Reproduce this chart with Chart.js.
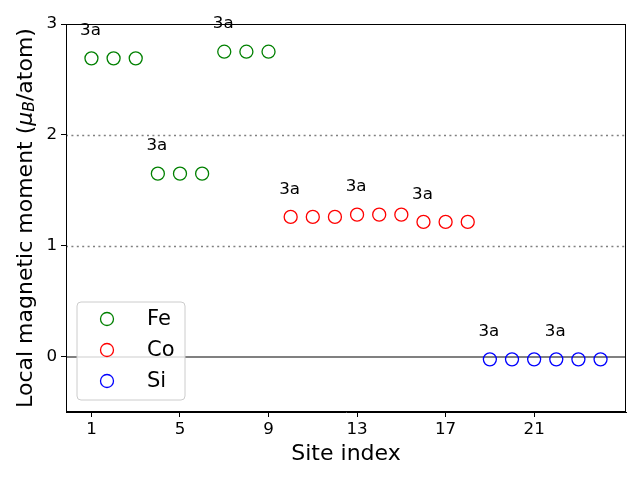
<!DOCTYPE html>
<html><head><meta charset="utf-8">
<script src="https://cdn.jsdelivr.net/npm/chart.js@4/dist/chart.umd.min.js"></script>
<style>html,body{margin:0;padding:0;background:#fff}#wrap{width:640px;height:480px;position:relative}</style>
</head><body><div id="wrap"><canvas id="c"></canvas></div>
<script>
const feSites = [1,2,3,4,5,6,7,8,9];
const feValues = [2.69,2.69,2.69,1.65,1.65,1.65,2.75,2.75,2.75];
const coSites = [10,11,12,13,14,15,16,17,18];
const coValues = [1.26,1.26,1.26,1.28,1.28,1.28,1.215,1.215,1.215];
const siSites = [19,20,21,22,23,24];
const siValues = [-0.025,-0.025,-0.025,-0.025,-0.025,-0.025];
const labelSites = [1,4,7,10,13,16,19,22];
const labelTexts = ["3a","3a","3a","3a","3a","3a","3a","3a"];
const xTicks = [1,5,9,13,17,21];
const yTicks = [0,1,2,3];
const dottedLines = [1,2];
const solidLines = [0];
const seriesNames = ["Fe","Co","Si"];
const seriesColors = ["#008000","#ff0000","#0000ff"];

const allSites = feSites.concat(coSites, siSites);
const allValues = feValues.concat(coValues, siValues);
const FONT = "'DejaVu Sans', sans-serif";

function pts(s, v){ return s.map((x,i)=>({x:x,y:v[i]})); }

const decor = {
  id:'decor',
  beforeDatasetsDraw(chart){
    const {ctx, chartArea:a, scales:{y}} = chart;
    ctx.save();
    ctx.strokeStyle = '#808080';
    ctx.lineWidth = 1.5;
    ctx.setLineDash([2,3.4]);
    dottedLines.forEach(v=>{const py=Math.round(y.getPixelForValue(v))+0.5;ctx.beginPath();ctx.moveTo(a.left,py);ctx.lineTo(a.right,py);ctx.stroke();});
    ctx.setLineDash([]);
    ctx.lineWidth = 2;
    solidLines.forEach(v=>{const py=Math.round(y.getPixelForValue(v));ctx.beginPath();ctx.moveTo(a.left,py);ctx.lineTo(a.right,py);ctx.stroke();});
    ctx.restore();
  },
  afterDraw(chart){
    const {ctx, chartArea:a, scales:{x,y}} = chart;
    ctx.save();
    ctx.strokeStyle='#000'; ctx.lineWidth=1;
    ctx.strokeRect(Math.round(a.left)+0.5, Math.round(a.top)+0.5, Math.round(a.right-a.left)-1, Math.round(a.bottom-a.top)-1);
    ctx.fillStyle='#000'; ctx.font='16.7px '+FONT; ctx.textAlign='center'; ctx.textBaseline='middle';
    labelSites.forEach((s,i)=>{
      const v = allValues[allSites.indexOf(s)];
      ctx.fillText(labelTexts[i], x.getPixelForValue(s)-1, y.getPixelForValue(v+0.25));
    });
    ctx.font='22px '+FONT; ctx.textBaseline='middle';
    ctx.fillText('Site index', (a.left+a.right)/2, 454);
    ctx.translate(26, (a.top+a.bottom)/2);
    ctx.rotate(-Math.PI/2);
    const segs = [
      {t:'Local magnetic moment (', f:'22px '+FONT, dy:0},
      {t:'\u03bc', f:'italic 22px '+FONT, dy:0},
      {t:'B', f:'italic 15.5px '+FONT, dy:4},
      {t:'/atom)', f:'22px '+FONT, dy:0}
    ];
    let tw=0; segs.forEach(sg=>{ctx.font=sg.f; sg.w=ctx.measureText(sg.t).width; tw+=sg.w;});
    let cx=-tw/2; ctx.textAlign='left';
    segs.forEach(sg=>{ctx.font=sg.f; ctx.fillText(sg.t, cx, sg.dy); cx+=sg.w;});
    ctx.restore();
    ctx.save();
    const lx=77, ly=302, lw=108, lh=98, r=4;
    ctx.beginPath();
    ctx.moveTo(lx+r,ly); ctx.lineTo(lx+lw-r,ly); ctx.quadraticCurveTo(lx+lw,ly,lx+lw,ly+r);
    ctx.lineTo(lx+lw,ly+lh-r); ctx.quadraticCurveTo(lx+lw,ly+lh,lx+lw-r,ly+lh);
    ctx.lineTo(lx+r,ly+lh); ctx.quadraticCurveTo(lx,ly+lh,lx,ly+lh-r);
    ctx.lineTo(lx,ly+r); ctx.quadraticCurveTo(lx,ly,lx+r,ly); ctx.closePath();
    ctx.fillStyle='rgba(255,255,255,0.8)'; ctx.fill();
    ctx.strokeStyle='#cccccc'; ctx.lineWidth=1; ctx.stroke();
    ctx.font='21px '+FONT; ctx.textAlign='left'; ctx.textBaseline='middle';
    seriesNames.forEach((n,i)=>{
      const yy = 319 + i*31;
      ctx.beginPath(); ctx.arc(107, yy, 6.5, 0, Math.PI*2);
      ctx.strokeStyle=seriesColors[i]; ctx.lineWidth=1.3; ctx.stroke();
      ctx.fillStyle='#000'; ctx.fillText(n, 147, yy+1);
    });
    ctx.restore();
  }
};

new Chart(document.getElementById('c'), {
  type:'scatter',
  data:{datasets:[
    {label:seriesNames[0], data:pts(feSites,feValues), borderColor:seriesColors[0]},
    {label:seriesNames[1], data:pts(coSites,coValues), borderColor:seriesColors[1]},
    {label:seriesNames[2], data:pts(siSites,siValues), borderColor:seriesColors[2]}
  ].map(d=>Object.assign(d,{backgroundColor:'rgba(0,0,0,0)', pointRadius:6.5, pointHoverRadius:6.5, pointBorderWidth:1.3, borderWidth:1.3}))},
  options:{
    responsive:true, maintainAspectRatio:false, animation:false,
    layout:{padding:{left:0, top:24, right:14, bottom:0}},
    plugins:{legend:{display:false}, tooltip:{enabled:false}},
    scales:{
      x:{type:'linear', min:-0.15, max:25.15,
        afterBuildTicks:s=>{s.ticks=xTicks.map(v=>({value:v}));},
        afterFit:s=>{s.height=68;},
        ticks:{font:{family:FONT,size:16.7}, color:'#000', padding:3, autoSkip:false, maxRotation:0},
        grid:{drawOnChartArea:false, drawTicks:true, tickLength:5, tickColor:'#000', tickWidth:1},
        border:{display:true, color:'#000', width:1}},
      y:{type:'linear', min:-0.5, max:3,
        afterBuildTicks:s=>{s.ticks=yTicks.map(v=>({value:v}));},
        afterFit:s=>{s.width=66;},
        ticks:{font:{family:FONT,size:16.7}, color:'#000', padding:4, autoSkip:false},
        grid:{drawOnChartArea:false, drawTicks:true, tickLength:5, tickColor:'#000', tickWidth:1},
        border:{display:true, color:'#000', width:1}}
    }
  },
  plugins:[decor]
});
</script></body></html>
